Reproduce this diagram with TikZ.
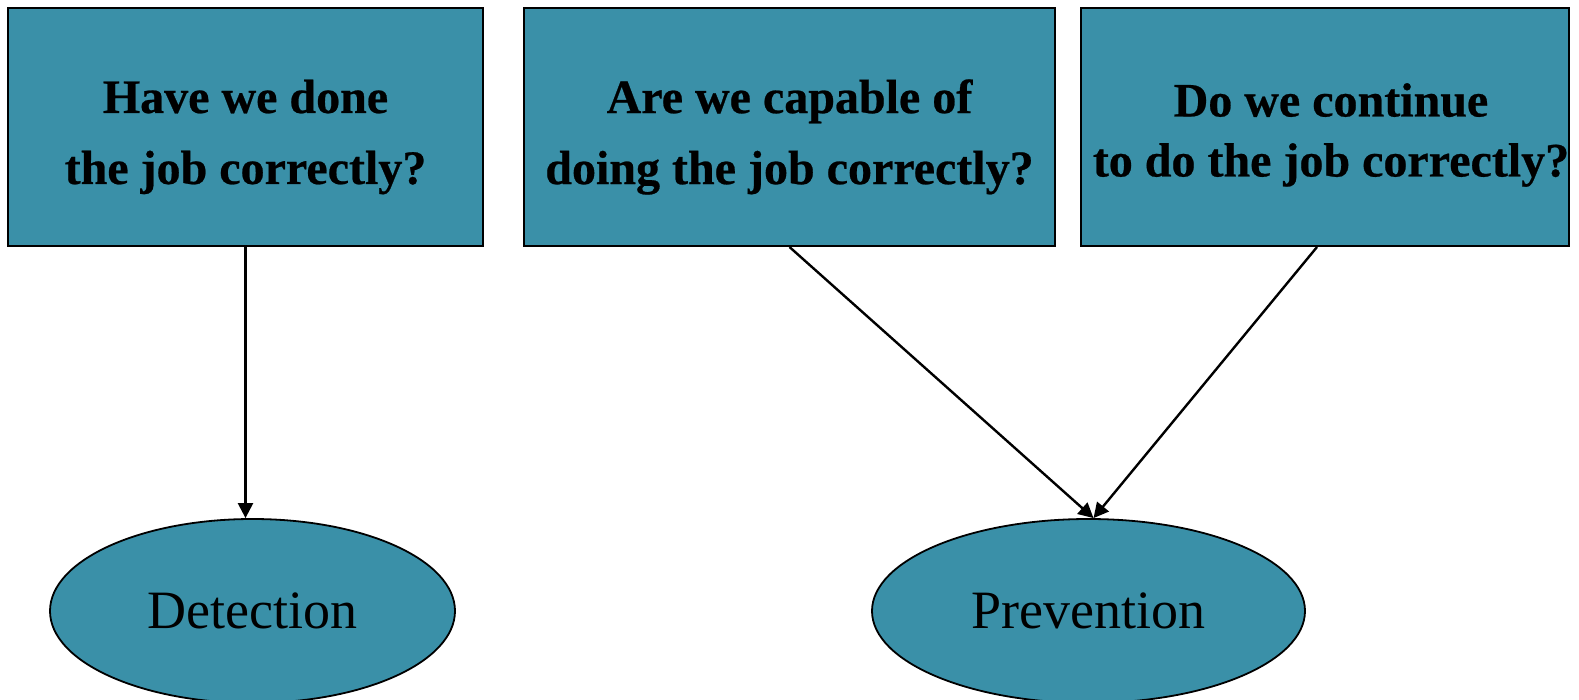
\documentclass[tikz,border=0pt]{standalone}
\usepackage{fontspec}
\setmainfont[BoldFeatures={FakeBold=0.5}]{Liberation Serif}
\usetikzlibrary{shapes.geometric,arrows.meta}
\definecolor{teal1}{RGB}{58,144,168}
\tikzset{
  qbox/.style={draw=black, line width=2pt, fill=teal1, rectangle, inner sep=0pt, minimum height=238pt},
  qtext/.style={align=center, inner sep=0pt, font=\bfseries\fontsize{48}{71}\selectfont},
  qtextb/.style={align=center, inner sep=0pt, font=\bfseries\fontsize{48}{60}\selectfont},
  goal/.style={draw=black, line width=1.8pt, fill=teal1, ellipse, inner sep=0pt, minimum height=184pt, font=\fontsize{54}{60}\selectfont},
  conn/.style={line width=2.4pt, -{Triangle[length=15pt,width=15pt]}}
}
\begin{document}
\begin{tikzpicture}[x=1pt,y=-1pt]
\useasboundingbox (0,0) rectangle (1579,700);
\node[qbox, minimum width=475pt] (q1) at (245.5,127) {};
\node[qtext] (t1) at ([yshift=-10pt]q1.center) {Have we done\\the job correctly?};
\node[qbox, minimum width=531pt] (q2) at (789.5,127) {};
\node[qtext] (t2) at ([yshift=-10pt]q2.center) {Are we capable of\\doing the job correctly?};
\node[qbox, minimum width=488pt] (q3) at (1325,127) {};
\node[qtextb] (t3) at ([xshift=6pt,yshift=-8pt]q3.center) {Do we continue\\to do the job correctly?};
\node[goal, minimum width=405pt] (e1) at (252.5,611) {Detection};
\node[goal, minimum width=433pt] (e2) at (1088.5,611) {Prevention};
\coordinate (s3) at ([xshift=-8pt]q3.south);
\coordinate (n2) at ([xshift=5pt]e2.north);
\draw[conn] (q1.south) -- (q1.south |- e1.north);
\draw[conn] (q2.south) -- (n2);
\draw[conn] (s3) -- (n2);
\end{tikzpicture}
\end{document}
